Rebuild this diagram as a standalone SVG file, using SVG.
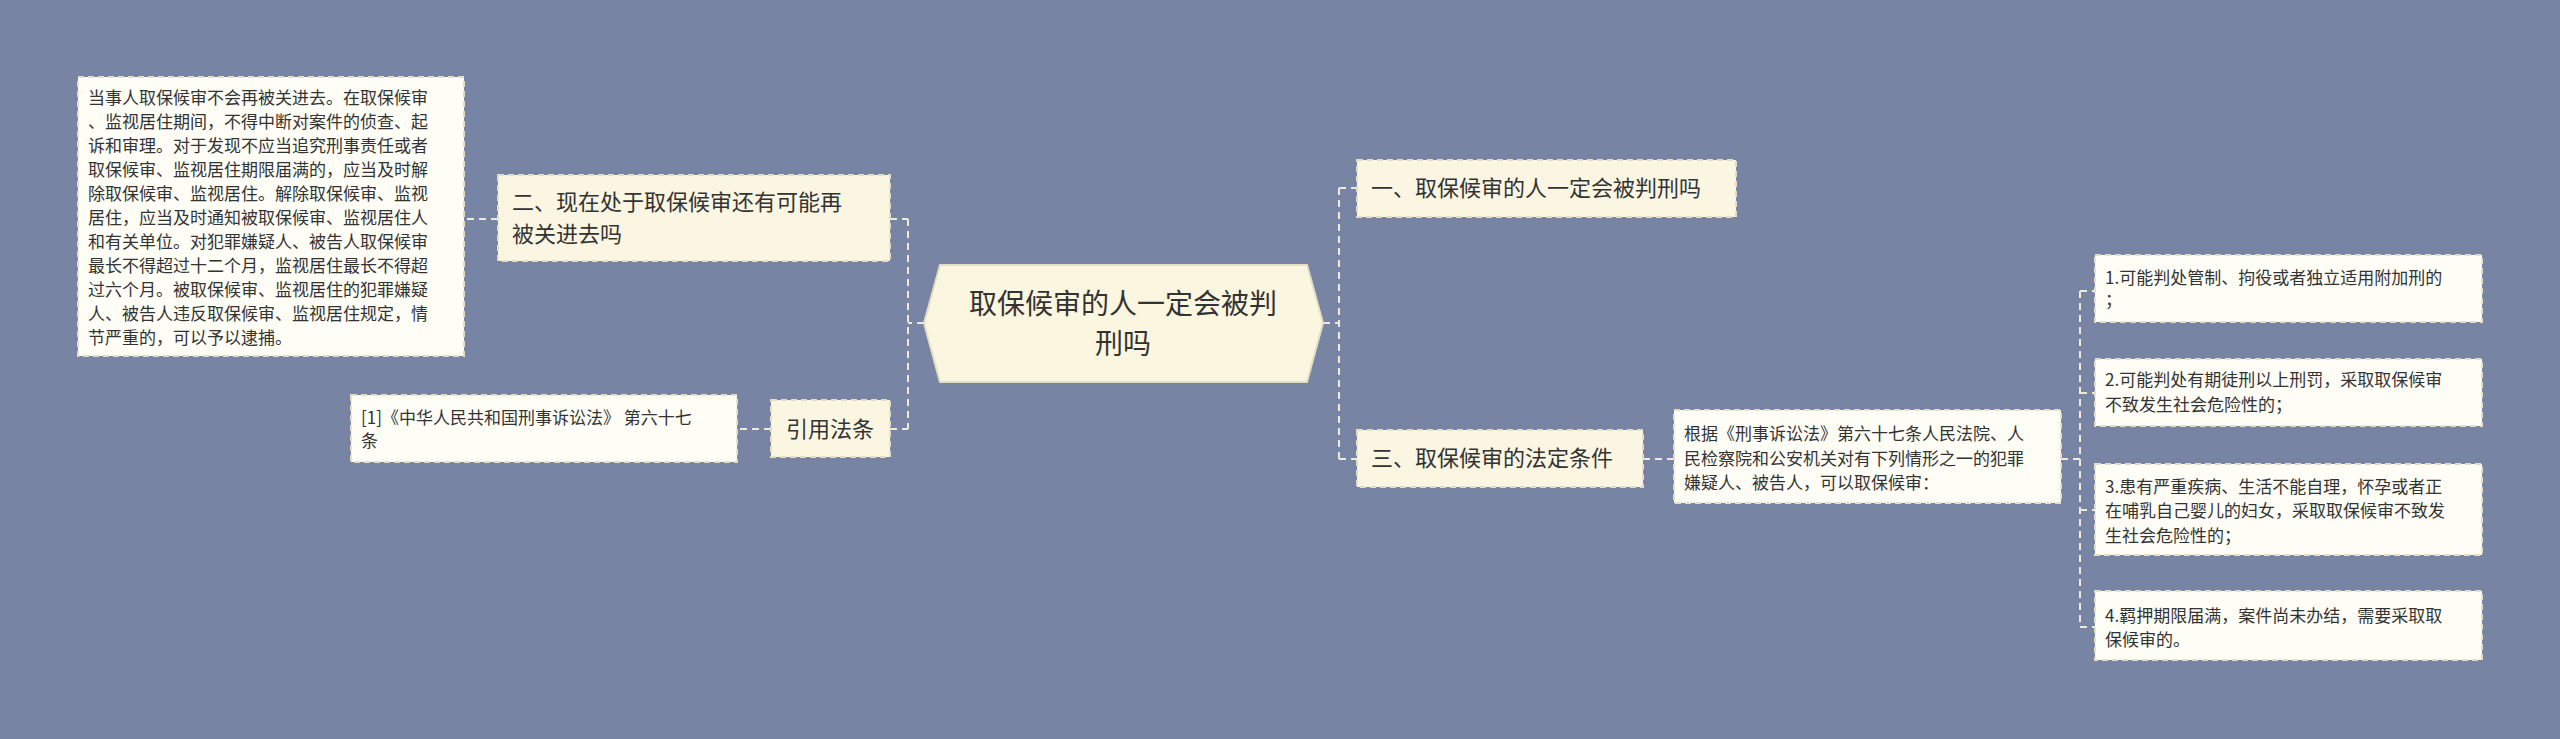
<svg xmlns="http://www.w3.org/2000/svg" width="2560" height="739" viewBox="0 0 2560 739">
<style>
text{font-family:"Noto Sans CJK SC","Liberation Sans",sans-serif;fill:#333}
.n{fill:#faf6e2;stroke:#e4dfc4;stroke-width:2;stroke-dasharray:6 4}
.d{fill:#fefdf6;stroke:#e4dfc4;stroke-width:2;stroke-dasharray:6 4}
.c{fill:none;stroke:#eeeadb;stroke-width:2;stroke-dasharray:7 5}
.s{font-size:17px}
.m{font-size:22px}
</style>
<rect width="2560" height="739" fill="#7884a3"/>
<g id="connectors">
<path class="c" d="M924 323H908M908 219V429M890 219H908M890 429H908"/>
<path class="c" d="M498 219H464M771 429H737"/>
<path class="c" d="M1323 323H1339M1339 188V459M1339 188H1357M1339 459H1357"/>
<path class="c" d="M1643 459H1674M2061 459H2080M2080 291V627M2080 291H2095M2080 393H2095M2080 510H2095M2080 627H2095"/>
</g>
<g id="center">
<polygon class="n" points="940,265 1307,265 1323,323 1307,382 940,382 924,323" style="stroke-dasharray:none;fill:#fbf6df"/>
<text x="1123" y="314" text-anchor="middle" font-size="28">取保候审的人一定会被判</text>
<text x="1123" y="354" text-anchor="middle" font-size="28">刑吗</text>
</g>
<g id="n2">
<rect class="n" x="498" y="175" width="392" height="86"/>
<text class="m" x="512" y="210">二、现在处于取保候审还有可能再</text>
<text class="m" x="512" y="242">被关进去吗</text>
</g>
<g id="n2detail">
<rect class="d" x="78" y="77" width="386" height="279"/>
<text class="s">
<tspan x="88" y="104">当事人取保候审不会再被关进去。在取保候审</tspan>
<tspan x="88" y="128">、监视居住期间，不得中断对案件的侦查、起</tspan>
<tspan x="88" y="152">诉和审理。对于发现不应当追究刑事责任或者</tspan>
<tspan x="88" y="176">取保候审、监视居住期限届满的，应当及时解</tspan>
<tspan x="88" y="200">除取保候审、监视居住。解除取保候审、监视</tspan>
<tspan x="88" y="224">居住，应当及时通知被取保候审、监视居住人</tspan>
<tspan x="88" y="248">和有关单位。对犯罪嫌疑人、被告人取保候审</tspan>
<tspan x="88" y="272">最长不得超过十二个月，监视居住最长不得超</tspan>
<tspan x="88" y="296">过六个月。被取保候审、监视居住的犯罪嫌疑</tspan>
<tspan x="88" y="320">人、被告人违反取保候审、监视居住规定，情</tspan>
<tspan x="88" y="344">节严重的，可以予以逮捕。</tspan>
</text>
</g>
<g id="cite">
<rect class="n" x="771" y="400" width="119" height="57"/>
<text class="m" x="830" y="437" text-anchor="middle">引用法条</text>
</g>
<g id="citedetail">
<rect class="d" x="351" y="395" width="386" height="67"/>
<text class="s" x="361" y="424">[1]《中华人民共和国刑事诉讼法》 第六十七</text>
<text class="s" x="361" y="447">条</text>
</g>
<g id="n1">
<rect class="n" x="1357" y="160" width="379" height="57"/>
<text class="m" x="1371" y="196">一、取保候审的人一定会被判刑吗</text>
</g>
<g id="n3">
<rect class="n" x="1357" y="430" width="286" height="57"/>
<text class="m" x="1371" y="466">三、取保候审的法定条件</text>
</g>
<g id="basis">
<rect class="d" x="1674" y="410" width="387" height="93"/>
<text class="s" x="1684" y="440">根据《刑事诉讼法》第六十七条人民法院、人</text>
<text class="s" x="1684" y="465">民检察院和公安机关对有下列情形之一的犯罪</text>
<text class="s" x="1684" y="489">嫌疑人、被告人，可以取保候审：</text>
</g>
<g id="i1">
<rect class="d" x="2095" y="255" width="387" height="67"/>
<text class="s" x="2105" y="284">1.可能判处管制、拘役或者独立适用附加刑的</text>
<text class="s" x="2105" y="306">；</text>
</g>
<g id="i2">
<rect class="d" x="2095" y="359" width="387" height="67"/>
<text class="s" x="2105" y="386">2.可能判处有期徒刑以上刑罚，采取取保候审</text>
<text class="s" x="2105" y="411">不致发生社会危险性的；</text>
</g>
<g id="i3">
<rect class="d" x="2095" y="464" width="387" height="91"/>
<text class="s" x="2105" y="493">3.患有严重疾病、生活不能自理，怀孕或者正</text>
<text class="s" x="2105" y="517">在哺乳自己婴儿的妇女，采取取保候审不致发</text>
<text class="s" x="2105" y="542">生社会危险性的；</text>
</g>
<g id="i4">
<rect class="d" x="2095" y="591" width="387" height="69"/>
<text class="s" x="2105" y="622">4.羁押期限届满，案件尚未办结，需要采取取</text>
<text class="s" x="2105" y="646">保候审的。</text>
</g>
</svg>
